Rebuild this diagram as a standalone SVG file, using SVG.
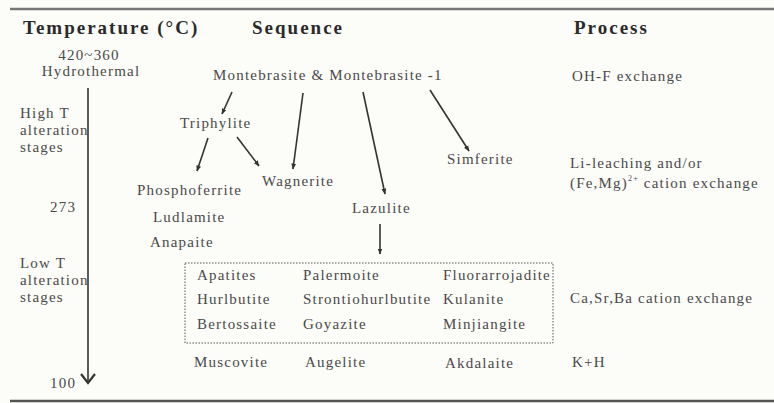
<svg xmlns="http://www.w3.org/2000/svg" width="774" height="403" viewBox="0 0 774 403">
<defs>
<style>
text{font-family:"Liberation Serif","Times New Roman",serif;}
.h{font-size:19px;font-weight:bold;fill:#2a2a2a;letter-spacing:2px;}
.t{font-size:15px;fill:#4a4a4a;letter-spacing:1.2px;}
.c{stroke:#333;stroke-width:1.6;fill:none;}
</style>
<marker id="ah" viewBox="0 0 10 10" refX="9" refY="5" markerWidth="6" markerHeight="6" orient="auto" markerUnits="userSpaceOnUse">
<path d="M0,1 L10,5 L0,9 Z" fill="#333"/>
</marker>
</defs>
<rect width="774" height="403" fill="#fcfcf8"/>
<line x1="10" y1="9" x2="774" y2="9" stroke="#777" stroke-width="2.5"/>
<line x1="10" y1="401" x2="774" y2="401" stroke="#555" stroke-width="2.5"/>

<g id="headers" font-family="Liberation Serif, serif">
<text class="h" x="23" y="34">Temperature (°C)</text>
<text class="h" x="252" y="34">Sequence</text>
<text class="h" x="574" y="34">Process</text>
</g>

<g id="temperature" font-family="Liberation Serif, serif">
<text class="t" x="89" y="60" text-anchor="middle">420~360</text>
<text class="t" x="91" y="76" text-anchor="middle">Hydrothermal</text>
<text class="t" x="20" y="118">High T</text>
<text class="t" x="20" y="135">alteration</text>
<text class="t" x="20" y="152">stages</text>
<text class="t" x="50" y="212">273</text>
<text class="t" x="20" y="268">Low T</text>
<text class="t" x="20" y="285">alteration</text>
<text class="t" x="20" y="302">stages</text>
<text class="t" x="50" y="388">100</text>
<line x1="88" y1="88" x2="88" y2="382" stroke="#333" stroke-width="1.6"/>
<path d="M81,374 L88,383 L95,374" stroke="#333" stroke-width="2.2" fill="none"/>
</g>

<g id="montebrasite"><text class="t" x="213" y="80">Montebrasite &amp; Montebrasite -1</text></g>
<g id="triphylite"><text class="t" x="180" y="128">Triphylite</text></g>
<g id="phosphoferrite"><text class="t" x="137" y="195">Phosphoferrite</text></g>
<g id="ludlamite"><text class="t" x="153" y="222">Ludlamite</text></g>
<g id="anapaite"><text class="t" x="150" y="247">Anapaite</text></g>
<g id="wagnerite"><text class="t" x="262" y="186">Wagnerite</text></g>
<g id="lazulite"><text class="t" x="352" y="213">Lazulite</text></g>
<g id="simferite"><text class="t" x="447" y="164">Simferite</text></g>

<g id="phosphate-box">
<rect x="185" y="263" width="368" height="80" fill="none" stroke="#555" stroke-width="1" stroke-dasharray="1.5,1.5"/>
<text class="t" x="197" y="280">Apatites</text>
<text class="t" x="303" y="280">Palermoite</text>
<text class="t" x="443" y="280">Fluorarrojadite</text>
<text class="t" x="197" y="304">Hurlbutite</text>
<text class="t" x="303" y="304">Strontiohurlbutite</text>
<text class="t" x="443" y="304">Kulanite</text>
<text class="t" x="197" y="329">Bertossaite</text>
<text class="t" x="303" y="329">Goyazite</text>
<text class="t" x="443" y="329">Minjiangite</text>
</g>

<g id="late">
<text class="t" x="194" y="367">Muscovite</text>
<text class="t" x="305" y="367">Augelite</text>
<text class="t" x="445" y="368">Akdalaite</text>
</g>

<g id="process">
<text class="t" x="572" y="81">OH-F exchange</text>
<text class="t" x="570" y="168">Li-leaching and/or</text>
<text class="t" x="570" y="188">(Fe,Mg)<tspan font-size="8" dy="-7">2+</tspan><tspan dy="7"> cation exchange</tspan></text>
<text class="t" x="570" y="303">Ca,Sr,Ba cation exchange</text>
<text class="t" x="572" y="367">K+H</text>
</g>

<g id="connectors">
<line class="c" x1="232" y1="92" x2="222" y2="114" marker-end="url(#ah)"/>
<line class="c" x1="208" y1="138" x2="197" y2="171" marker-end="url(#ah)"/>
<line class="c" x1="237" y1="137" x2="259" y2="166" marker-end="url(#ah)"/>
<line class="c" x1="303" y1="93" x2="293" y2="169" marker-end="url(#ah)"/>
<line class="c" x1="363" y1="92" x2="385" y2="194" marker-end="url(#ah)"/>
<line class="c" x1="430" y1="90" x2="469" y2="151" marker-end="url(#ah)"/>
<line class="c" x1="380" y1="224" x2="380" y2="254" marker-end="url(#ah)"/>
</g>
</svg>
